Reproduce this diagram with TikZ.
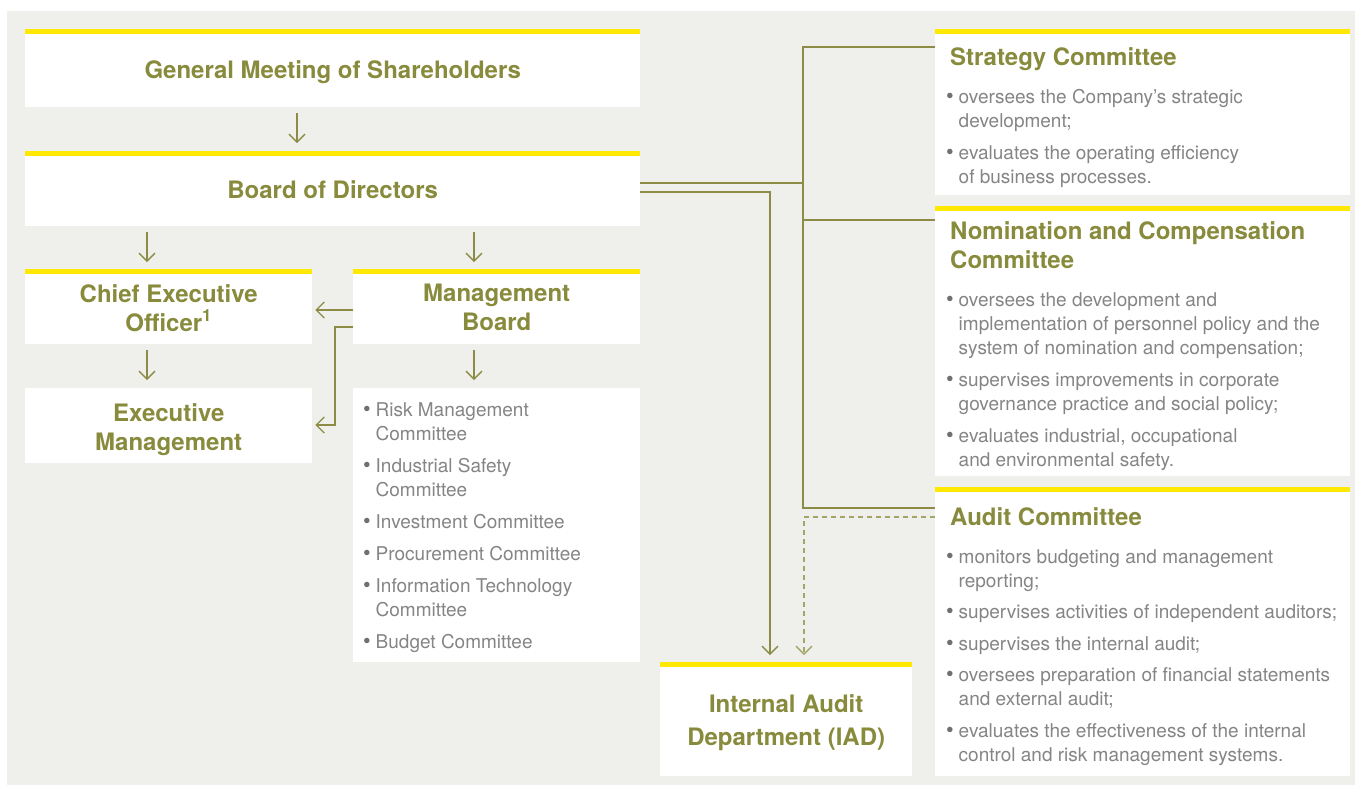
\documentclass[tikz,border=0pt]{standalone}
\usepackage{fontspec}
\setmainfont{TeX Gyre Heros}
\usetikzlibrary{arrows.meta, positioning, calc}
\definecolor{colive}{HTML}{888A3C}
\definecolor{cline}{HTML}{8C8C46}
\definecolor{cdash}{HTML}{A4A566}
\definecolor{cyellow}{HTML}{FFE900}
\definecolor{cbg}{HTML}{EFEFEB}
\definecolor{ctext}{HTML}{858585}
\definecolor{cdot}{HTML}{707070}
\newcommand{\bul}{\makebox[12.5pt][l]{\textcolor{cdot}{\scalebox{1.15}{\textbullet}}}}
\newcommand{\ind}{\hspace*{12.5pt}}
\tikzset{
  every picture/.style={x=1pt, y=-1pt},
  box/.style 2 args={fill=white, inner sep=0pt, anchor=north west, minimum width=#1pt, minimum height=#2pt},
  ybox/.style 2 args={box={#1}{#2}, path picture={\fill[cyellow] (path picture bounding box.north west) rectangle ([yshift=-5pt]path picture bounding box.north east);}},
  title/.style={font=\fontsize{24}{29}\selectfont\bfseries, text=colive, align=center, inner sep=0pt},
  head/.style={font=\fontsize{24}{29}\selectfont\bfseries, text=colive, align=left, inner sep=0pt, anchor=north west},
  list/.style={font=\fontsize{19}{24}\selectfont, text=ctext, align=left, inner sep=0pt, anchor=north west},
  ln/.style={draw=cline, line width=1.3pt},
  arr/.style={ln, -{Straight Barb[length=8pt, width=16pt]}},
  dsh/.style={arr, draw=cdash, dash pattern=on 5pt off 4pt},
}

\begin{document}
\begin{tikzpicture}
  \useasboundingbox (0,0) rectangle (1355,785);
  \fill[cbg] (7,11) rectangle (1355,785);

  % left column
  \node[ybox={615}{78}] (gms) at (25,29) {};
  \node[title] (gmstext) at ([yshift=-4pt]gms.center) {General Meeting of Shareholders};
  \node[ybox={615}{75}] (bod) at (25,151) {};
  \node[title] (bodtext) at ([yshift=-1pt]bod.center) {Board of Directors};
  \node[ybox={287}{75}] (ceo) at (25,269) {};
  \node[title] (ceotext) at ([yshift=-1pt]ceo.center) {Chief Executive\\ Officer\textsuperscript{1}};
  \node[ybox={287}{75}] (mb) at (353,269) {};
  \node[title] (mbtext) at ([yshift=-1pt]mb.center) {Management\\ Board};
  \node[box={287}{75}] (exm) at (25,388) {};
  \node[title] (exmtext) at ([yshift=-4pt]exm.center) {Executive\\ Management};
  \node[box={287}{274}] (comm) at (353,388) {};
  \node[list] (commlist) at ([xshift=10pt, yshift=-14pt]comm.north west)
    {\bul Risk Management\\ \ind Committee\\[8pt]
     \bul Industrial Safety\\ \ind Committee\\[8pt]
     \bul Investment Committee\\[8pt]
     \bul Procurement Committee\\[8pt]
     \bul Information Technology\\ \ind Committee\\[8pt]
     \bul Budget Committee};
  \node[ybox={252}{114}] (iad) at (660,662) {};
  \node[title] (iadtext) at ([yshift=-3pt]iad.center) {Internal Audit\\[4pt] Department (IAD)};

  % committees of the board
  \node[ybox={415}{166}] (strat) at (935,29) {};
  \node[head] (strathead) at ([xshift=15pt, yshift=-18pt]strat.north west) {Strategy Committee};
  \node[list] (stratlist) at ([xshift=11pt, yshift=-60pt]strat.north west)
    {\bul oversees the Company’s strategic\\ \ind development;\\[8pt]
     \bul evaluates the operating efficiency\\ \ind of business processes.};

  \node[ybox={415}{270}] (nom) at (935,206) {};
  \node[head] (nomhead) at ([xshift=15pt, yshift=-15pt]nom.north west) {Nomination and Compensation\\ Committee};
  \node[list] (nomlist) at ([xshift=11pt, yshift=-86pt]nom.north west)
    {\bul oversees the development and\\ \ind implementation of personnel policy and the\\ \ind system of nomination and compensation;\\[8pt]
     \bul supervises improvements in corporate\\ \ind governance practice and social policy;\\[8pt]
     \bul evaluates industrial, occupational\\ \ind and environmental safety.};

  \node[ybox={415}{289}] (aud) at (935,487) {};
  \node[head] (audhead) at ([xshift=15pt, yshift=-20pt]aud.north west) {Audit Committee};
  \node[list] (audlist) at ([xshift=11pt, yshift=-62pt]aud.north west)
    {\bul monitors budgeting and management\\ \ind reporting;\\[7.5pt]
     \bul supervises activities of independent auditors;\\[7.5pt]
     \bul supervises the internal audit;\\[7.5pt]
     \bul oversees preparation of financial statements\\ \ind and external audit;\\[7.5pt]
     \bul evaluates the effectiveness of the internal\\ \ind control and risk management systems.};

  % connectors
  \draw[arr] ([xshift=272pt, yshift=-6pt]gms.south west) -- ([xshift=272pt, yshift=8pt]bod.north west);
  \draw[arr] ([xshift=122pt, yshift=-6pt]bod.south west) -- ([xshift=122pt, yshift=7pt]ceo.north west);
  \draw[arr] ([xshift=449pt, yshift=-6pt]bod.south west) -- ([xshift=121pt, yshift=7pt]mb.north west);
  \draw[arr] ([xshift=122pt, yshift=-6pt]ceo.south west) -- ([xshift=122pt, yshift=8pt]exm.north west);
  \draw[arr] ([xshift=121pt, yshift=-6pt]mb.south west) -- ([xshift=121pt, yshift=8pt]comm.north west);
  \draw[arr] ([yshift=-41pt]mb.north west) -- ([xshift=3pt, yshift=-41pt]ceo.north east);
  \draw[arr] ([yshift=-58pt]mb.north west) -- ++(-18,0) |- ([xshift=3pt, yshift=-37pt]exm.north east);

  \draw[ln] ([yshift=-32pt]bod.north east) -- ++(163,0);
  \draw[ln] ([yshift=-18pt]strat.north west) -| ([xshift=-132pt, yshift=-21pt]aud.north west) -- ([yshift=-21pt]aud.north west);
  \draw[ln] ([yshift=-14pt]nom.north west) -- ++(-132,0);
  \draw[arr] ([yshift=-41pt]bod.north east) -| ([xshift=110pt, yshift=7pt]iad.north west);
  \draw[dsh] ([yshift=-30pt]aud.north west) -| ([xshift=144pt, yshift=7pt]iad.north west);
\end{tikzpicture}
\end{document}
